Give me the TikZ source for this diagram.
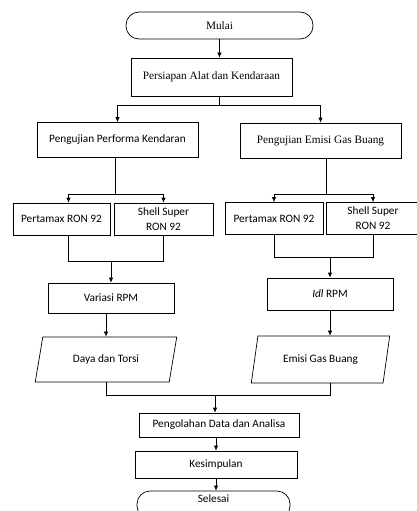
\documentclass[tikz,border=0pt]{standalone}
\usepackage{fontspec}
\setmainfont{Liberation Serif}
\newfontfamily\carlito{Carlito}
\usetikzlibrary{arrows.meta, shapes, positioning}

\begin{document}
\begin{tikzpicture}[x=1pt, y=-1pt, >={Latex[length=5pt, width=4.5pt]}, line width=0.7pt,
	every node/.style={font=\fontsize{11.3}{15}\selectfont},
	box/.style={draw, rectangle, inner sep=2pt, align=center},
	term/.style={draw, rounded corners=13pt, inner sep=2pt},
	io/.style={draw, trapezium, trapezium left angle=73, trapezium right angle=107, inner sep=2pt, trapezium stretches},
	sans/.style={font=\carlito\fontsize{11.3}{15}\selectfont}]

		\useasboundingbox (0,0) rectangle (417,511);

		\node[term, minimum width=187, minimum height=27] (mulai) at (219.5,25.5) {Mulai};
		\node[box, minimum width=161, minimum height=38] (persiapan) at (211.5,77) {Persiapan Alat dan Kendaraan};

		\node[box, sans, minimum width=161, minimum height=35] (uji1) at (117.5,140) {Pengujian Performa Kendaran};
		\node[box, minimum width=161, minimum height=35] (uji2) at (320.5,140.5) {Pengujian Emisi Gas Buang};

		\node[box, sans, minimum width=97, minimum height=32] (bbm1) at (61.5,219) {Pertamax RON 92};
		\node[box, sans, minimum width=99, minimum height=32] (shell1) at (163.5,219) {Shell Super\\RON 92};
		\node[box, sans, minimum width=98, minimum height=32] (bbm2) at (274,218.5) {Pertamax RON 92};
		\node[box, sans, minimum width=94, minimum height=32] (shell2) at (373,218.5) {Shell Super\\RON 92};

		\node[box, sans, minimum width=126, minimum height=30] (rpm1) at (111,298) {Variasi RPM};
		\node[box, sans, minimum width=126, minimum height=32] (rpm2) at (330,294) {\textit{Idl} RPM};

		\node[io, sans, minimum width=142, minimum height=45] (hasil1) at (106,359.5) {Daya dan Torsi};
		\node[io, sans, minimum width=139, minimum height=47] (hasil2) at (320.5,359.5) {Emisi Gas Buang};

		\node[box, sans, minimum width=160, minimum height=24] (olah) at (219,425) {Pengolahan Data dan Analisa};
		\node[box, sans, minimum width=162, minimum height=27] (simpul) at (216,464.5) {Kesimpulan};
		\node[term, sans, minimum width=153, minimum height=28, text height=8pt, text depth=14pt] (selesai) at (213.5,505) {Selesai};

		% cabang atas
		\draw[->] (mulai.south) -- (mulai.south |- persiapan.north);
		\draw (mulai.south |- persiapan.south) -- ++(0,9) coordinate (split1);
		\draw[->] (split1) -| (uji1.north);
		\draw[->] (split1) -| (uji2.north);

		% bahan bakar
		\draw ([xshift=-2pt]uji1.south) -- ++(0,36) coordinate (split2);
		\draw[->] (split2) -| ([xshift=7pt]bbm1.north);
		\draw[->] (split2) -| (shell1.north);
		\draw ([xshift=6pt]uji2.south) -- ++(0,36) coordinate (split3);
		\draw[->] (split3) -| (bbm2.north);
		\draw[->] (split3) -| (shell2.north);

		% gabung ke pengujian
		\coordinate (join1) at ([yshift=21pt]rpm1.north);
		\draw ([xshift=7pt]bbm1.south) |- (join1) -| (shell1.south);
		\draw[->] (join1) -- (rpm1.north);
		\coordinate (join2) at ([yshift=20pt]rpm2.north);
		\draw (bbm2.south) |- (join2) -| (shell2.south);
		\draw[->] (join2) -- (rpm2.north);

		\draw[->] (rpm1.south -| hasil1.north) -- (hasil1.north);
		\draw[->] (rpm2.south) -- (rpm2.south |- hasil2.north);

		% bawah
		\coordinate (join3) at ([xshift=-4pt, yshift=17pt]olah.north);
		\draw (hasil1.south) |- (join3) -| (rpm2.south |- hasil2.south);
		\draw[->] (join3) -- (join3 |- olah.north);
		\draw[->] (olah.south -| simpul.north) -- (simpul.north);
		\draw[->] (simpul.south) -- (simpul.south |- selesai.north);

\end{tikzpicture}
\end{document}
